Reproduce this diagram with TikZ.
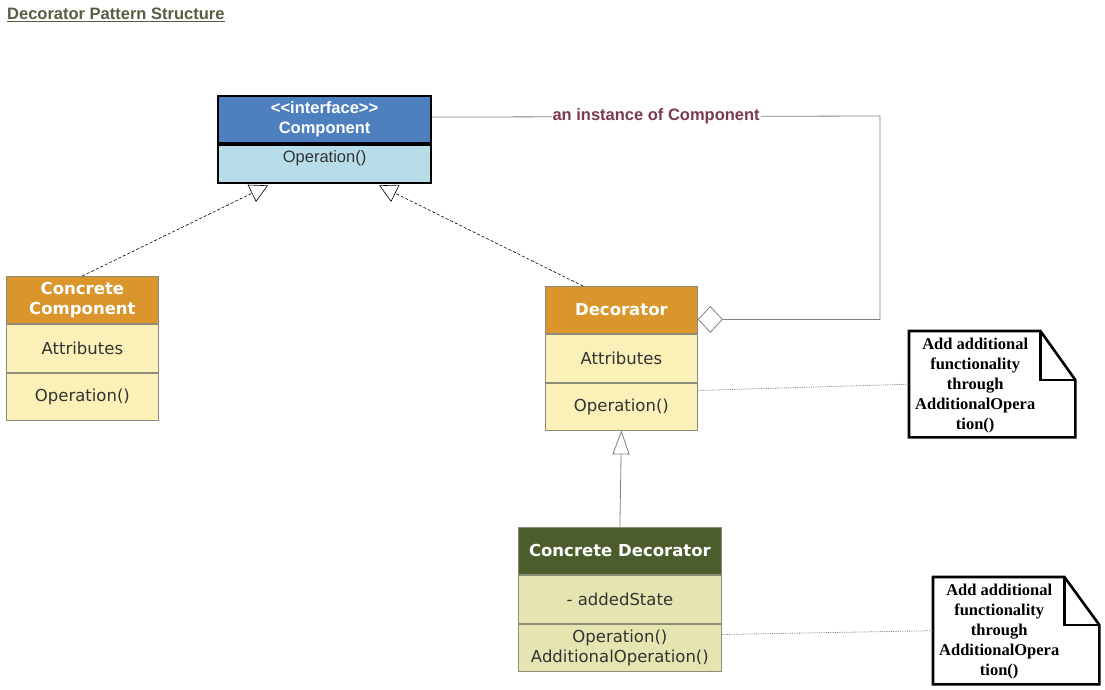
\documentclass[tikz,border=0pt]{standalone}
\usepackage{fontspec}
\setmainfont{Liberation Sans}
\newfontfamily\dv{DejaVu Sans}
\newfontfamily\tms{Liberation Serif}
\usetikzlibrary{arrows.meta}
\definecolor{compblue}{HTML}{4E7FBF}
\definecolor{complight}{HTML}{B7DEE8}
\definecolor{orangeh}{HTML}{DA962C}
\definecolor{yel}{HTML}{FAF0B8}
\definecolor{oliveh}{HTML}{4B5D2C}
\definecolor{olivel}{HTML}{E5E5B1}
\definecolor{boxgray}{HTML}{8C8C78}
\definecolor{txt}{HTML}{333333}
\definecolor{lblc}{HTML}{7A3B4E}
\definecolor{titlec}{HTML}{5B5B45}
\definecolor{linegray}{HTML}{808080}
\tikzset{
  cell/.style={rectangle, inner sep=0pt, anchor=north west, align=center},
  ifc/.style={cell, draw=black, line width=2.2pt},
  cls/.style={cell, draw=boxgray, line width=0.8pt, text=txt, font=\dv\fontsize{16.5}{20}\selectfont},
  clshead/.style={cls, text=white, font=\dv\bfseries\fontsize{16.5}{20}\selectfont},
  notebox/.style={rectangle, inner sep=0pt, anchor=north west},
  noteline/.style={draw=black, line width=2.6pt, line join=miter},
  notetext/.style={align=center, font=\tms\bfseries\fontsize{16.5}{20}\selectfont, inner sep=0pt},
  realize/.style={densely dashed, black, line width=0.6pt, -{Triangle[open, length=18pt, width=19pt, fill=white, line width=0.6pt]}},
  inherit/.style={linegray, line width=0.8pt, -{Triangle[open, length=24pt, width=17pt, fill=white, line width=0.8pt]}},
  aggr/.style={linegray, line width=0.8pt, -{Diamond[open, length=25pt, width=27pt, fill=white, line width=0.8pt]}},
  notelink/.style={linegray, densely dotted, line width=0.8pt},
}
\begin{document}
\begin{tikzpicture}[x=1pt, y=-1pt]
\useasboundingbox (0,0) rectangle (1105,690);
% title
\node[anchor=base west, inner sep=0pt, text=titlec, font=\bfseries\fontsize{16.5}{18}\selectfont] (title) at (7,20) {\underline{Decorator Pattern Structure}};
% Component interface
\node[ifc, fill=compblue, text=white, font=\bfseries\fontsize{16.5}{20}\selectfont, minimum width=213, minimum height=47] (comph) at (217,95) {<\kern0pt<interface>\kern0pt>\\Component};
\node[ifc, fill=complight, text=txt, font=\fontsize{16.5}{20}\selectfont, minimum width=213, minimum height=38, anchor=north, text height=12pt, text depth=16pt] (compop) at (comph.south) {Operation()};
% Concrete Component
\node[clshead, fill=orangeh, minimum width=152, minimum height=47] (cch) at (6,276) {Concrete\\Component};
\node[cls, fill=yel, minimum width=152, minimum height=48, anchor=north] (cca) at (cch.south) {Attributes};
\node[cls, fill=yel, minimum width=152, minimum height=47, anchor=north] (cco) at (cca.south) {Operation()};
% Decorator
\node[clshead, fill=orangeh, minimum width=152, minimum height=47] (dech) at (545,286) {Decorator};
\node[cls, fill=yel, minimum width=152, minimum height=48, anchor=north] (deca) at (dech.south) {Attributes};
\node[cls, fill=yel, minimum width=152, minimum height=47, anchor=north] (deco) at (deca.south) {Operation()};
% Concrete Decorator
\node[clshead, fill=oliveh, minimum width=203, minimum height=47] (cdh) at (518,527) {Concrete Decorator};
\node[cls, fill=olivel, minimum width=203, minimum height=48, anchor=north] (cda) at (cdh.south) {- addedState};
\node[cls, fill=olivel, minimum width=203, minimum height=47, anchor=north] (cdo) at (cda.south) {Operation()\\AdditionalOperation()};
% Notes
\node[notebox, minimum width=166, minimum height=106] (n1) at (909,331) {};
\draw[noteline] (n1.north west) -- ([xshift=-35pt]n1.north east) -- ([yshift=-49pt]n1.north east) -- (n1.south east) -- (n1.south west) -- cycle;
\draw[black, line width=2.6pt] ([xshift=-35pt]n1.north east) |- ([yshift=-49pt]n1.north east);
\node[notetext] (n1t) at ([xshift=-17pt,yshift=-1pt]n1.center) {Add additional\\functionality\\through\\AdditionalOpera\\tion()};
\node[notebox, minimum width=166, minimum height=107] (n2) at (933,577) {};
\draw[noteline] (n2.north west) -- ([xshift=-35pt]n2.north east) -- ([yshift=-48pt]n2.north east) -- (n2.south east) -- (n2.south west) -- cycle;
\draw[black, line width=2.6pt] ([xshift=-35pt]n2.north east) |- ([yshift=-48pt]n2.north east);
\node[notetext] (n2t) at ([xshift=-17pt,yshift=-1pt]n2.center) {Add additional\\functionality\\through\\AdditionalOpera\\tion()};
% connectors
\draw[realize] (cch.north) -- ([xshift=51pt,yshift=-1pt]compop.south west);
\draw[realize] ([xshift=38pt]dech.north west) -- ([xshift=-53pt,yshift=-1pt]compop.south east);
\draw[inherit] (cdh.north) -- (deco.south);
\coordinate (aggc) at (880,116);
\draw[aggr] ([yshift=2.5pt]comph.east) -- node[fill=white, inner sep=1pt, text=lblc, font=\bfseries\fontsize{16.5}{18}\selectfont, pos=0.5] (lbl) {an instance of Component} (aggc) |- ([yshift=-9.5pt]dech.east);
\draw[notelink] ([yshift=16pt]deco.east) -- (n1.west);
\draw[notelink] ([yshift=13pt]cdo.east) -- (n2.west);
\end{tikzpicture}
\end{document}
